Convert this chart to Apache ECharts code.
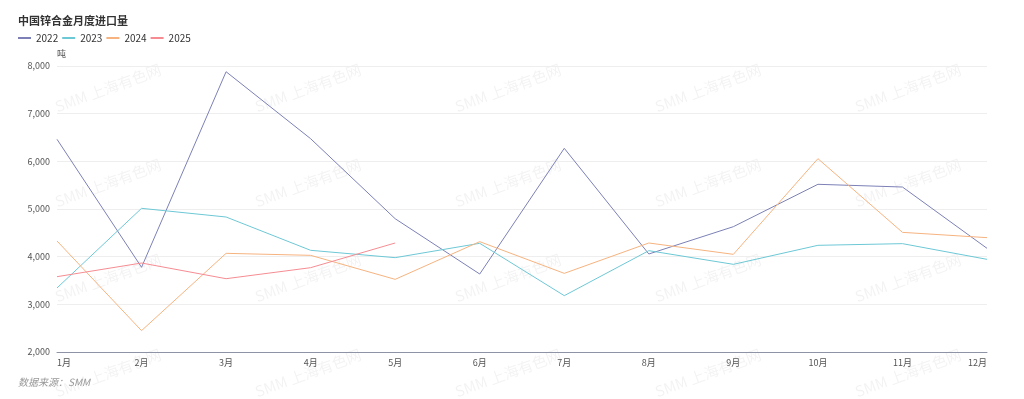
<!DOCTYPE html>
<html>
<head>
<meta charset="utf-8">
<script src="https://cdn.jsdelivr.net/npm/echarts@6/dist/echarts.min.js"></script>
<style>
    html, body { margin: 0; padding: 0; background: #fff; }
    #chart { width: 1024px; height: 399px; }
</style>
</head>
<body>
<div id="chart"></div>
<script>
    // 月份
    var months = ["1月", "2月", "3月", "4月", "5月", "6月", "7月", "8月", "9月", "10月", "11月", "12月"];
    // 各年进口量（吨）
    var y2022 = [6462, 3777, 7880, 6475, 4796, 3636, 6273, 4056, 4629, 5518, 5461, 4175];
    var y2023 = [3343, 5014, 4832, 4133, 3979, 4280, 3182, 4126, 3839, 4238, 4273, 3944];
    var y2024 = [4329, 2448, 4070, 4028, 3524, 4315, 3650, 4287, 4049, 6056, 4510, 4399];
    var y2025 = [3580, 3867, 3538, 3769, 4287];
    var years = ["2022", "2023", "2024", "2025"];
    var colors = ["#7c80b6", "#6dc8d6", "#f6b37f", "#f68c92"];

    var font = "'Noto Sans CJK SC', 'Noto Sans', sans-serif";

    // 水印
    var marks = [];
    var rows = [88, 183, 278, 373];
    var cols = [108, 308, 508, 708, 908];
    rows.forEach(function (ry) {
        cols.forEach(function (cx) {
            marks.push({
                type: "text",
                x: cx,
                y: ry,
                rotation: 0.35,
                z: -1,
                style: {
                    text: "SMM 上海有色网",
                    fill: "rgba(0,0,0,0.05)",
                    font: "15px " + font,
                    textAlign: "center",
                    textVerticalAlign: "middle"
                }
            });
        });
    });
    marks.push({
        type: "text",
        left: 18,
        top: 377,
        style: {
            text: "数据来源：SMM",
            fill: "#999",
            font: "italic 10px " + font
        }
    });

    var series = [y2022, y2023, y2024, y2025].map(function (d, i) {
        return {
            name: years[i],
            type: "line",
            data: d,
            symbol: "none",
            lineStyle: { width: 1, color: colors[i] },
            itemStyle: { color: colors[i] }
        };
    });

    var chart = echarts.init(document.getElementById("chart"));
    chart.setOption({
        animation: false,
        textStyle: { fontFamily: font },
        title: {
            text: "中国锌合金月度进口量",
            left: 13,
            top: 10,
            textStyle: { fontSize: 11, fontWeight: "bold", color: "#333" }
        },
        legend: {
            left: 13,
            top: 28,
            itemWidth: 13,
            itemHeight: 2,
            itemGap: 4,
            icon: "rect",
            textStyle: { fontSize: 10, color: "#333" },
            data: years
        },
        grid: { left: 57, right: 37, top: 66, bottom: 47, containLabel: false },
        xAxis: {
            type: "category",
            data: months,
            boundaryGap: false,
            axisLine: { lineStyle: { color: "#8e93a6" } },
            axisTick: { show: false },
            axisLabel: {
                fontSize: 9,
                color: "#555",
                margin: 6,
                alignMinLabel: "left",
                alignMaxLabel: "right"
            }
        },
        yAxis: {
            type: "value",
            name: "吨",
            nameGap: 8,
            nameTextStyle: { fontSize: 9, color: "#555", align: "left", padding: [0, 0, 0, 0] },
            min: 2000,
            max: 8000,
            interval: 1000,
            axisLine: { show: false },
            axisTick: { show: false },
            axisLabel: { fontSize: 9, color: "#555", margin: 7 },
            splitLine: { lineStyle: { color: "#eeeeee" } }
        },
        graphic: marks,
        series: series
    });
</script>
</body>
</html>
